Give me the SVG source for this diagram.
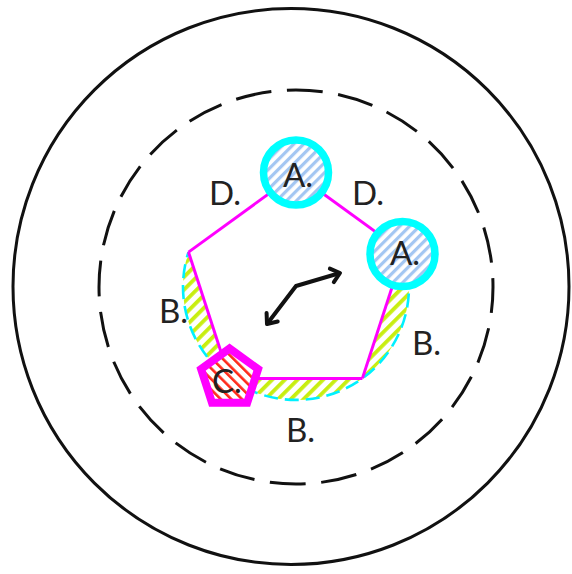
<svg xmlns="http://www.w3.org/2000/svg" width="572" height="574" viewBox="0 0 572 574">
  <defs>
    <pattern id="hBlue" patternUnits="userSpaceOnUse" width="7" height="7" patternTransform="rotate(45)">
      <rect width="7" height="7" fill="#ffffff"/>
      <rect width="3.2" height="7" fill="#a3c6f2"/>
    </pattern>
    <pattern id="hGreen" patternUnits="userSpaceOnUse" width="9" height="9" patternTransform="rotate(45)">
      <rect width="9" height="9" fill="#ffffff"/>
      <rect width="3.8" height="9" fill="#c8ee10"/>
    </pattern>
    <pattern id="hRed" patternUnits="userSpaceOnUse" width="7.5" height="7.5" patternTransform="rotate(-45)">
      <rect width="7.5" height="7.5" fill="#ffffff"/>
      <rect width="2.6" height="7.5" fill="#ff2a1a"/>
    </pattern>
    <marker id="chev" markerUnits="userSpaceOnUse" viewBox="-14 -10 18 20" refX="0" refY="0" markerWidth="18" markerHeight="20" orient="auto-start-reverse" overflow="visible">
      <path d="M-8.5,-7 L0,0 L-8.5,7" fill="none" stroke="#111" stroke-width="4" stroke-linejoin="round" stroke-linecap="round"/>
    </marker>
  </defs>
  <style>
    .lbl { font-family: "Lato", "Liberation Sans", sans-serif; font-weight: 400; font-size: 33px; fill: #222222; }
    .edge { stroke: #ff00ff; stroke-width: 3; fill: none; }
    .ring { fill: url(#hBlue); stroke: #00ffff; stroke-width: 7.5; }
    .seg { fill: url(#hGreen); stroke: none; }
  </style>
  <rect width="572" height="574" fill="#ffffff"/>

  <g id="outer-boundary">
    <circle cx="291" cy="286.5" r="278" fill="none" stroke="#111" stroke-width="3"/>
  </g>
  <g id="dashed-boundary">
    <circle cx="296" cy="287" r="197" fill="none" stroke="#111" stroke-width="3" stroke-dasharray="36 15.6" stroke-dashoffset="10"/>
  </g>

  <g id="B-regions">
    <path class="seg" d="M403.5,252.1 A113,113 0 0 1 362.4,378.4 Z"/>
    <path class="seg" d="M362.4,378.4 A113,113 0 0 1 229.6,378.4 Z"/>
    <path class="seg" d="M229.6,378.4 A113,113 0 0 1 188.5,252.1 Z"/>
    <path d="M403.5,252.1 A113,113 0 1 1 188.5,252.1" fill="none" stroke="#00f0ff" stroke-width="2.6" stroke-dasharray="14 7"/>
  </g>

  <g id="connectors">
    <line class="edge" x1="296" y1="174" x2="403.5" y2="252.1"/>
    <line class="edge" x1="403.5" y1="252.1" x2="362.4" y2="378.4"/>
    <line class="edge" x1="362.4" y1="378.4" x2="229.6" y2="378.4"/>
    <line class="edge" x1="229.6" y1="378.4" x2="188.5" y2="252.1"/>
    <line class="edge" x1="188.5" y1="252.1" x2="296" y2="174"/>
    <polyline points="267,324 296,286 340,273" fill="none" stroke="#111" stroke-width="4" stroke-linejoin="round" marker-start="url(#chev)" marker-end="url(#chev)"/>
  </g>

  <g id="node-A1">
    <circle class="ring" cx="296" cy="172.5" r="32.5"/>
    <text class="lbl" x="283" y="187">A.</text>
  </g>
  <g id="node-A2">
    <circle class="ring" cx="402.5" cy="254" r="32.5"/>
    <text class="lbl" x="390" y="265">A.</text>
  </g>
  <g id="node-C">
    <polygon points="229.6,348.4 258.1,369.1 247.2,402.7 212,402.7 201.1,369.1" fill="url(#hRed)" stroke="#ff00ff" stroke-width="8"/>
    <text class="lbl" x="212" y="393">C.</text>
  </g>

  <g id="labels">
    <text class="lbl" x="209" y="205">D.</text>
    <text class="lbl" x="352" y="205">D.</text>
    <text class="lbl" x="159" y="323">B.</text>
    <text class="lbl" x="412" y="355">B.</text>
    <text class="lbl" x="286" y="442">B.</text>
  </g>
</svg>
